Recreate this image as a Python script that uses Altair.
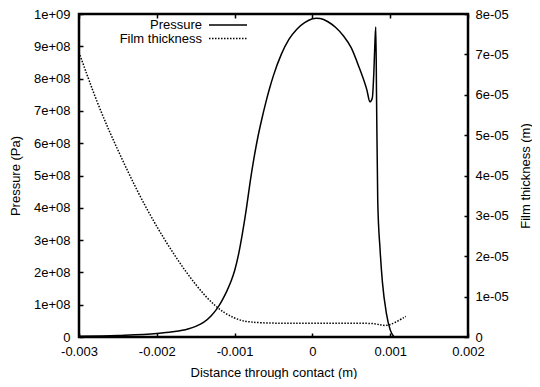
import altair as alt
import pandas as pd

# ---- data ----
p_x = [-3.0, -2.5, -2.0, -1.8, -1.6, -1.5, -1.4, -1.3, -1.25, -1.2, -1.15, -1.1,
       -1.05, -1.0, -0.95, -0.9, -0.85, -0.8, -0.75, -0.7, -0.65, -0.6, -0.55,
       -0.5, -0.4, -0.3, -0.2, -0.1, 0.0, 0.05, 0.1, 0.2, 0.3, 0.4, 0.5, 0.6,
       0.7, 0.74, 0.77, 0.79, 0.805, 0.815, 0.825, 0.84, 0.87, 0.9, 0.95, 1.0, 1.05]
p_val = [0.02, 0.045, 0.105, 0.16, 0.25, 0.33, 0.45, 0.66, 0.8, 0.97, 1.18, 1.42,
         1.7, 2.05, 2.55, 3.2, 3.95, 4.8, 5.55, 6.2, 6.75, 7.25, 7.7,
         8.1, 8.75, 9.22, 9.53, 9.73, 9.85, 9.87, 9.86, 9.76, 9.58, 9.32, 8.95, 8.35,
         7.65, 7.28, 7.4, 8.2, 9.2, 9.6, 7.3, 4.2, 2.7, 1.7, 0.75, 0.22, 0.0]

h_x = [-3.0, -2.75, -2.5, -2.25, -2.0, -1.75, -1.5, -1.25, -1.0, -0.8, -0.5, 0.0,
       0.5, 0.78, 0.86, 0.95, 1.05, 1.2]
h_val = [7.05, 5.7, 4.62, 3.6, 2.72, 1.95, 1.28, 0.74, 0.44, 0.36, 0.34, 0.34,
         0.34, 0.34, 0.31, 0.27, 0.34, 0.51]

x_ticks = [-0.003, -0.002, -0.001, 0.0, 0.001, 0.002]
p_ticks = [i * 1e8 for i in range(11)]
h_ticks = [i * 1e-5 for i in range(9)]

legend_labels = ["Pressure", "Film thickness"]

pdf = pd.DataFrame({"x": [v * 1e-3 for v in p_x], "p": [v * 1e8 for v in p_val]})
hdf = pd.DataFrame({"x": [v * 1e-3 for v in h_x], "h": [v * 1e-5 for v in h_val]})

FONT = "Liberation Sans"
FS = 13
TK = 4

xscale = alt.Scale(domain=[-0.003, 0.002], nice=False, zero=False)

x_bottom = alt.X(
    "x:Q", scale=xscale,
    axis=alt.Axis(orient="bottom", values=x_ticks, offset=-TK, tickSize=TK,
                  domain=False, grid=False, labelPadding=8,
                  labelExpr="datum.value == 0 ? '0' : replace(format(datum.value, '.3f'), '\u2212', '-')",
                  title="Distance through contact (m)", titlePadding=8,
                  labelFlush=False),
)
x_top = alt.X(
    "x:Q", scale=xscale,
    axis=alt.Axis(orient="top", values=x_ticks, offset=-TK, tickSize=TK,
                  domain=False, grid=False, labels=False, title=None),
)

pressure = alt.Chart(pdf).mark_line(color="black", strokeWidth=1.5, interpolate="monotone").encode(
    x=x_bottom,
    y=alt.Y("p:Q", scale=alt.Scale(domain=[0, 1e9], nice=False),
            axis=alt.Axis(orient="left", values=p_ticks, offset=-TK, tickSize=TK,
                          domain=False, grid=False, labelPadding=9,
                          labelExpr="datum.value == 0 ? '0' : replace(format(datum.value, '.0e'), 'e+', 'e+0')",
                          title="Pressure (Pa)", titlePadding=11, labelFlush=False)),
)

film = alt.Chart(hdf).mark_line(color="black", strokeWidth=1.5, strokeDash=[1.5, 1.5],
                                interpolate="basis").encode(
    x=x_top,
    y=alt.Y("h:Q", scale=alt.Scale(domain=[0, 8e-5], nice=False),
            axis=alt.Axis(orient="right", values=h_ticks, offset=-TK, tickSize=TK,
                          domain=False, grid=False, labelPadding=7,
                          labelExpr="datum.value == 0 ? '0' : replace(format(datum.value, '.0e'), 'e-', 'e-0')",
                          title="Film thickness (m)", titleAngle=270,
                          titleX=61, titleY=161.5, titleAlign="center",
                          titleBaseline="middle", labelFlush=False)),
)

leg_p_text = alt.Chart(pd.DataFrame({"t": [legend_labels[0]]})).mark_text(
    align="right", baseline="middle", font=FONT, fontSize=FS, color="black").encode(
    text="t:N", x=alt.value(123), y=alt.value(11))
leg_h_text = alt.Chart(pd.DataFrame({"t": [legend_labels[1]]})).mark_text(
    align="right", baseline="middle", font=FONT, fontSize=FS, color="black").encode(
    text="t:N", x=alt.value(123), y=alt.value(24.5))
leg_p_line = alt.Chart(pd.DataFrame({"t": [legend_labels[0]]})).mark_rule(
    color="black", strokeWidth=1.5).encode(
    x=alt.value(130), x2=alt.value(168), y=alt.value(11))
leg_h_line = alt.Chart(pd.DataFrame({"t": [legend_labels[1]]})).mark_rule(
    color="black", strokeWidth=1.5, strokeDash=[1.5, 1.5]).encode(
    x=alt.value(130), x2=alt.value(168), y=alt.value(24.5))

chart = alt.layer(pressure, film, leg_p_text, leg_h_text, leg_p_line, leg_h_line).resolve_scale(
    y="independent"
).resolve_axis(
    x="independent", y="independent"
).properties(
    width=389, height=323,
    autosize=alt.AutoSizeParams(type="none"),
    padding={"left": 71, "top": 6, "right": 64, "bottom": 42},
    background="white",
).configure_view(
    stroke="black", strokeWidth=2.5
).configure_axis(
    labelFont=FONT, labelFontSize=FS, labelColor="black",
    titleFont=FONT, titleFontSize=FS, titleFontWeight="normal", titleColor="black",
    tickColor="black", tickWidth=1.5,
)

chart.save("out.html", embed_options={"renderer": "svg", "actions": False})
